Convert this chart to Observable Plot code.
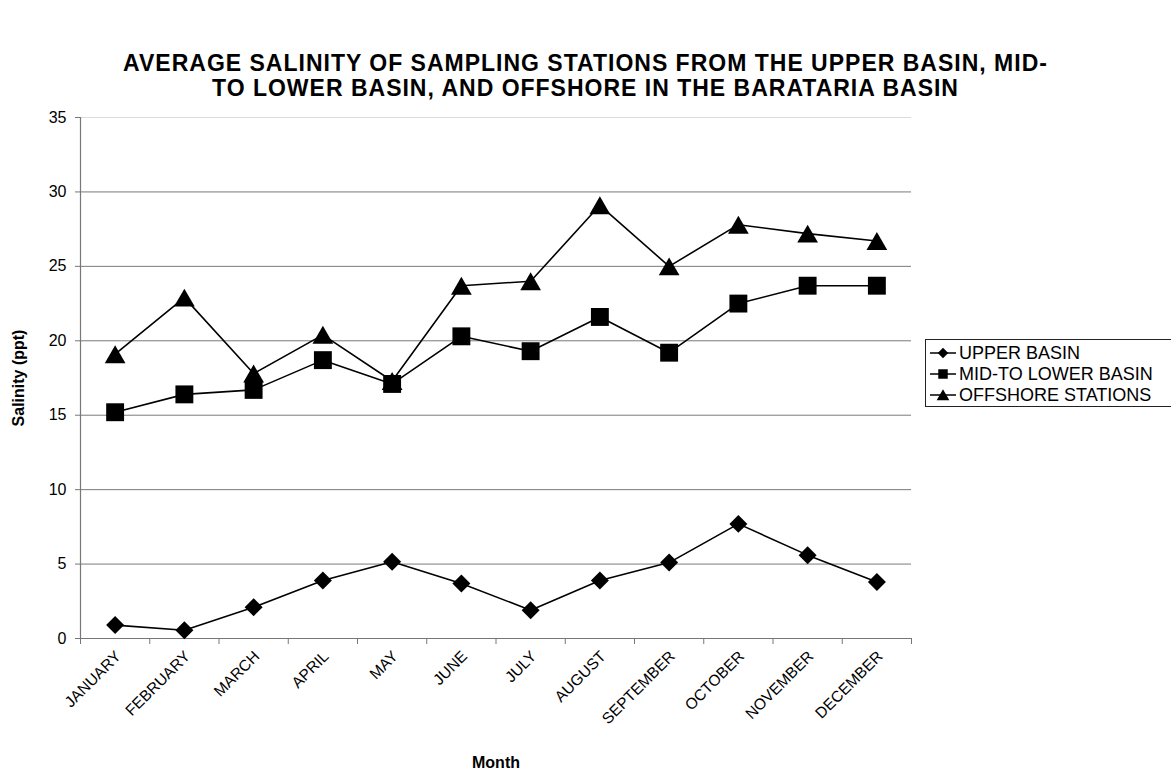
<!DOCTYPE html>
<html>
<head>
<meta charset="utf-8">
<script src="https://cdn.jsdelivr.net/npm/d3@7"></script>
<script src="https://cdn.jsdelivr.net/npm/@observablehq/plot@0.6"></script>
<style>
  body { margin: 0; background: #fff; }
  #wrap { position: relative; width: 1171px; height: 777px; overflow: hidden; font-family: "Liberation Sans", Arial, sans-serif; }
  #title { position: absolute; left: 0; top: 51px; width: 1171px; text-align: center; font-weight: bold; font-size: 23px; letter-spacing: 1px; line-height: 25px; color: #000; }
  #legend { position: absolute; left: 925px; top: 339px; width: 270px; height: 66px; border: 1px solid #222; background: #fff; font-size: 18px; color: #000; }
  #legend .row { position: absolute; left: 0; height: 20px; display: flex; align-items: center; }
  #legend svg { display: block; margin-right: 1px; }
  #chart { position: absolute; left: 0; top: 0; }
</style>
</head>
<body>
<div id="wrap">
  <div id="chart"></div>
  <div id="title">AVERAGE SALINITY OF SAMPLING STATIONS FROM THE UPPER BASIN, MID-<br>TO LOWER BASIN, AND OFFSHORE IN THE BARATARIA BASIN</div>
  <div id="legend"></div>
</div>
<script>
const months = ["JANUARY","FEBRUARY","MARCH","APRIL","MAY","JUNE","JULY","AUGUST","SEPTEMBER","OCTOBER","NOVEMBER","DECEMBER"];
const seriesNames = ["UPPER BASIN", "MID-TO LOWER BASIN", "OFFSHORE STATIONS"];
const upperBasin = [0.9, 0.55, 2.1, 3.9, 5.15, 3.7, 1.9, 3.9, 5.1, 7.7, 5.6, 3.8];
const midLowerBasin = [15.2, 16.4, 16.7, 18.7, 17.1, 20.3, 19.3, 21.6, 19.2, 22.5, 23.7, 23.7];
const offshore = [19.1, 22.9, 17.8, 20.4, 17.3, 23.7, 24.0, 29.1, 25.0, 27.8, 27.2, 26.7];
const yTicks = [0, 5, 10, 15, 20, 25, 30, 35];

const symbols = ["diamond2", "square", "triangle"];
const radii = [8.1, 10.1, 7.7];
const dys = [0, 0, 3];
const values = [upperBasin, midLowerBasin, offshore];

const data = [];
seriesNames.forEach((s, si) => {
  months.forEach((m, mi) => data.push({series: s, month: m, idx: mi + 0.5, value: values[si][mi]}));
});

const W = 1171, H = 777;
const mL = 80, mR = W - 911, mT = 117, mB = H - 638;

const marks = [
  Plot.ruleY(yTicks.filter(v => v > 0 && v < 35), {y: d => d, stroke: "#7a7a7a", strokeWidth: 1}),
  Plot.ruleY([35], {stroke: "#dcdcdc", strokeWidth: 1}),
  Plot.axisY({ticks: yTicks, tickSize: 5, tickPadding: 9, fontSize: 16, stroke: "#777", color: "#000", label: null}),
  Plot.axisX({ticks: d3.range(0, 13), tickSize: 6, tickFormat: () => "", stroke: "#777", label: null}),
  Plot.axisX({ticks: months.map((m, i) => i + 0.5), tickSize: 0, tickFormat: (d) => months[Math.round(d - 0.5)], rotate: -45, textAnchor: "end", tickPadding: 11, dx: -1, fontSize: 15.5, fill: "#000", label: null}),
  Plot.ruleX([0], {stroke: "#777", strokeWidth: 1.2}),
  Plot.ruleY([0], {stroke: "#777", strokeWidth: 1.2}),
  Plot.text(["Salinity (ppt)"], {frameAnchor: "left", textAnchor: "middle", dx: -62, rotate: -90, fontSize: 16, fontWeight: "bold", fill: "#000"}),
  Plot.text(["Month"], {frameAnchor: "bottom", dy: 129, fontSize: 16, fontWeight: "bold", fill: "#000"})
];
seriesNames.forEach((s, si) => {
  const d = data.filter(r => r.series === s);
  marks.push(Plot.line(d, {x: "idx", y: "value", stroke: "#000", strokeWidth: 1.6}));
  marks.push(Plot.dot(d, {x: "idx", y: "value", symbol: () => symbols[si], r: radii[si], fill: "#000", stroke: "none", dy: dys[si]}));
});

const chart = Plot.plot({
  width: W, height: H,
  marginLeft: mL, marginRight: mR, marginTop: mT, marginBottom: mB,
  style: {fontFamily: "'Liberation Sans', Arial, sans-serif", background: "#fff", color: "#000"},
  x: {domain: [0, 12], axis: null},
  y: {domain: [0, 35], axis: null},
  symbol: {type: "identity"},
  marks
});
document.getElementById("chart").appendChild(chart);

// legend
const leg = document.getElementById("legend");
const symSmall = [
  d3.symbol(d3.symbolDiamond2, 70),
  d3.symbol(d3.symbolSquare, 90),
  d3.symbol(d3.symbolTriangle, 70)
];
seriesNames.forEach((s, i) => {
  const row = document.createElement("div");
  row.className = "row";
  row.style.top = (3 + i * 21) + "px";
  const svg = d3.create("svg").attr("width", 32).attr("height", 20);
  svg.append("line").attr("x1", 4).attr("x2", 30).attr("y1", 10).attr("y2", 10).attr("stroke", "#000").attr("stroke-width", 1.5);
  svg.append("path").attr("d", symSmall[i]()).attr("transform", `translate(17,${i === 2 ? 11.5 : 10})`).attr("fill", "#000");
  row.appendChild(svg.node());
  const t = document.createElement("span");
  t.textContent = s;
  row.appendChild(t);
  leg.appendChild(row);
});
</script>
</body>
</html>
